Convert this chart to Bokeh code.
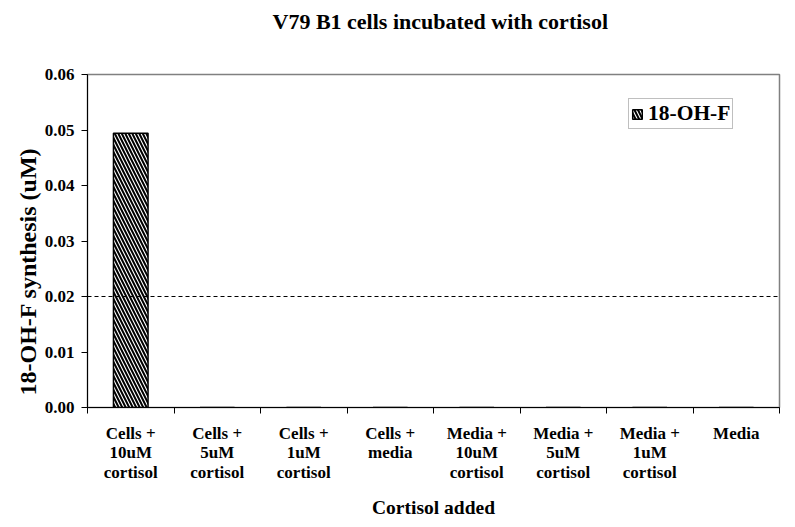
from bokeh.plotting import figure
from bokeh.models import (Range1d, FixedTicker, Span, Legend, LegendItem, Title,
                          ColumnDataSource, CustomJSTickFormatter, NumeralTickFormatter)
from bokeh.embed import file_html
from bokeh.resources import INLINE

# ---- data ----
categories = ["Cells +\n10uM\ncortisol", "Cells +\n5uM\ncortisol", "Cells +\n1uM\ncortisol",
              "Cells +\nmedia", "Media +\n10uM\ncortisol", "Media +\n5uM\ncortisol",
              "Media +\n1uM\ncortisol", "Media"]
values = [0.0494, 0, 0, 0, 0, 0, 0, 0]
series_name = "18-OH-F"
threshold = 0.02
y_ticks = [0.00, 0.01, 0.02, 0.03, 0.04, 0.05, 0.06]
title_text = "V79 B1 cells incubated with cortisol"
x_title = "Cortisol added"
y_title = "18-OH-F synthesis (uM)"

FONT = "Liberation Serif"
n = len(categories)
centers = [i + 0.5 for i in range(n)]
bounds = list(range(n + 1))

p = figure(width=787, height=519, frame_width=692, frame_height=333,
           output_backend="svg", toolbar_location=None,
           x_range=Range1d(0, n), y_range=Range1d(y_ticks[0], y_ticks[-1]),
           min_border_left=87, min_border_right=8, min_border_top=74, min_border_bottom=112)

# chart title (outermost above panel), with a blank spacer panel between it and the frame
p.title.text = title_text
p.title.align = "left"
p.title.offset = 185
p.title.standoff = 0
p.title.text_font = FONT
p.title.text_font_style = "bold"
p.title.text_font_size = "22px"
p.title.text_color = "black"
p.add_layout(Title(text=" ", text_font_size="10px", standoff=28), "above")

p.xgrid.visible = False
p.ygrid.visible = False
p.outline_line_color = "#808080"
p.outline_line_width = 1.5
p.background_fill_color = "white"
p.border_fill_color = "white"

src = ColumnDataSource(dict(x=centers, top=values))
r = p.vbar(x="x", top="top", bottom=0, width=0.4, source=src,
           fill_color="white", line_color="black", line_width=1.5,
           hatch_pattern="left_diagonal_line", hatch_color="black",
           hatch_scale=7, hatch_weight=2)

p.add_layout(Span(location=threshold, dimension="width", line_color="black",
                  line_width=1, line_dash="4 3"))

# x axis
xa = p.xaxis[0]
xa.ticker = FixedTicker(ticks=centers, minor_ticks=bounds)
xa.formatter = CustomJSTickFormatter(args=dict(labels=categories),
                                     code="return labels[Math.floor(tick)];")
xa.major_tick_line_color = None
xa.minor_tick_line_color = "black"
xa.minor_tick_in = 0
xa.minor_tick_out = 6
xa.axis_line_color = "black"
xa.major_label_text_font = FONT
xa.major_label_text_font_style = "bold"
xa.major_label_text_font_size = "17px"
xa.major_label_text_color = "black"
xa.major_label_text_line_height = 1.04
xa.major_label_standoff = 10
xa.axis_label = x_title
xa.axis_label_text_font = FONT
xa.axis_label_text_font_style = "bold"
xa.axis_label_text_font_size = "19.5px"
xa.axis_label_text_color = "black"
xa.axis_label_standoff = 12

# y axis
ya = p.yaxis[0]
ya.ticker = FixedTicker(ticks=y_ticks)
ya.formatter = NumeralTickFormatter(format="0.00")
ya.major_tick_in = 0
ya.major_tick_out = 6
ya.minor_tick_line_color = None
ya.axis_line_color = "black"
ya.major_label_text_font = FONT
ya.major_label_text_font_style = "bold"
ya.major_label_text_font_size = "17px"
ya.major_label_text_color = "black"
ya.major_label_standoff = 7

# y axis title as a side title, placed like the original (slightly below centre)
p.add_layout(Title(text=y_title, align="left", offset=12, standoff=2,
                   text_font=FONT, text_font_style="bold", text_font_size="24px",
                   text_color="black"), "left")

legend = Legend(items=[LegendItem(label=series_name, renderers=[r])],
                location=(541, 278), orientation="vertical",
                glyph_width=12, glyph_height=12, label_standoff=5,
                padding=2, margin=0, spacing=0, label_height=20,
                label_text_font=FONT, label_text_font_style="bold",
                label_text_font_size="21.5px", label_text_color="black",
                border_line_color="#808080", border_line_width=1,
                background_fill_color="white", background_fill_alpha=1)
p.add_layout(legend)

open("out.html", "w").write(file_html(p, INLINE))
